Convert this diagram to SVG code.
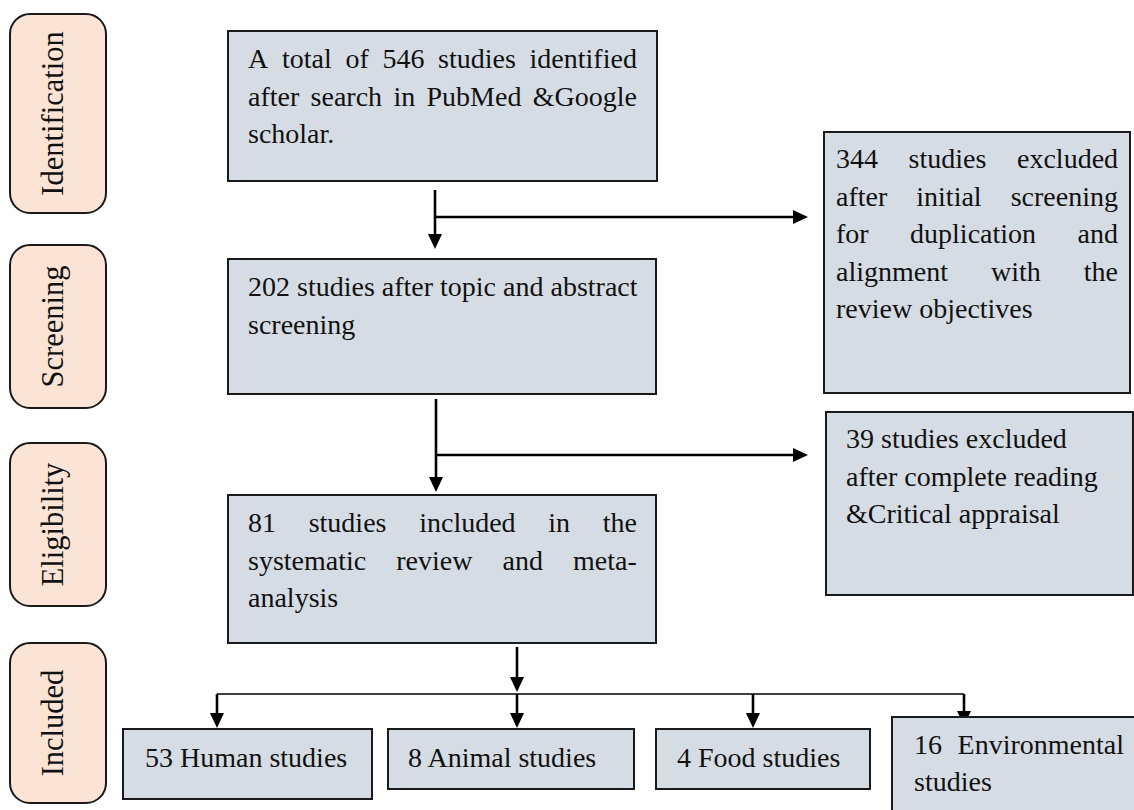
<svg xmlns="http://www.w3.org/2000/svg" width="1134" height="810" viewBox="0 0 1134 810">
<defs>
<style>
.box{fill:#D6DCE4;stroke:#1a1a1a;stroke-width:2}
.side{fill:#FBE4D5;stroke:#1a1a1a;stroke-width:2}
text{font-family:"Liberation Serif","Times New Roman",serif;font-size:28px;fill:#111}
.lbl{font-size:30.5px}
.ln{fill:none;stroke:#000;stroke-width:2.6}
.thin{fill:none;stroke:#000;stroke-width:1.6}
</style>
<marker id="ah" markerUnits="userSpaceOnUse" markerWidth="15" markerHeight="14" refX="3" refY="7" orient="auto">
<path d="M0,0 L15,7 L0,14 z" fill="#000"/>
</marker>
</defs>
<rect width="1134" height="810" fill="#fff"/>

<g id="stage-identification">
<rect class="side" x="10" y="14" width="96" height="199" rx="20"/>
<text class="lbl" transform="translate(63,113.5) rotate(-90)" text-anchor="middle">Identification</text>
</g>
<g id="stage-screening">
<rect class="side" x="10" y="245" width="96" height="163" rx="20"/>
<text class="lbl" transform="translate(63,326.5) rotate(-90)" text-anchor="middle">Screening</text>
</g>
<g id="stage-eligibility">
<rect class="side" x="10" y="443" width="96" height="163" rx="20"/>
<text class="lbl" transform="translate(63,524.5) rotate(-90)" text-anchor="middle">Eligibility</text>
</g>
<g id="stage-included">
<rect class="side" x="10" y="643" width="96" height="160" rx="20"/>
<text class="lbl" transform="translate(63,723) rotate(-90)" text-anchor="middle">Included</text>
</g>

<g id="connectors">
<path class="ln" d="M435,190 V237" marker-end="url(#ah)"/>
<path class="ln" d="M435,217 H796" marker-end="url(#ah)"/>
<path class="ln" d="M436,399 V480" marker-end="url(#ah)"/>
<path class="ln" d="M436,455 H796" marker-end="url(#ah)"/>
<path class="ln" d="M517,647 V680" marker-end="url(#ah)"/>
<path class="thin" d="M217,694 H964"/>
<path class="ln" d="M217,694 V716" marker-end="url(#ah)"/>
<path class="ln" d="M517,694 V716" marker-end="url(#ah)"/>
<path class="ln" d="M753,694 V716" marker-end="url(#ah)"/>
<path class="ln" d="M964,694 V714" marker-end="url(#ah)"/>
</g>

<g id="identified">
<rect class="box" x="228" y="31" width="429" height="150"/>
<text y="68"><tspan x="248">A</tspan><tspan x="281.9">total</tspan><tspan x="345.4">of</tspan><tspan x="382.4">546</tspan><tspan x="438.1">studies</tspan><tspan x="529.6">identified</tspan></text>
<text y="105.5"><tspan x="248">after</tspan><tspan x="310.6">search</tspan><tspan x="393.4">in</tspan><tspan x="426.5">PubMed</tspan><tspan x="532.7">&amp;Google</tspan></text>
<text x="248" y="143">scholar.</text>
</g>

<g id="excluded-344">
<rect class="box" x="824" y="132" width="306" height="261"/>
<text y="168"><tspan x="836">344</tspan><tspan x="908.6">studies</tspan><tspan x="1017">excluded</tspan></text>
<text y="205.5"><tspan x="836">after</tspan><tspan x="916.3">initial</tspan><tspan x="1010.7">screening</tspan></text>
<text y="243"><tspan x="836">for</tspan><tspan x="910.1">duplication</tspan><tspan x="1077.6">and</tspan></text>
<text y="280.5"><tspan x="836">alignment</tspan><tspan x="991">with</tspan><tspan x="1083.8">the</tspan></text>
<text x="836" y="318">review objectives</text>
</g>

<g id="screened">
<rect class="box" x="228" y="259" width="428" height="135"/>
<text x="248" y="296">202 studies after topic and abstract</text>
<text x="248" y="333.5">screening</text>
</g>

<g id="excluded-39">
<rect class="box" x="826" y="412" width="307" height="183"/>
<text x="846" y="448">39 studies excluded</text>
<text x="846" y="485.5">after complete reading</text>
<text x="846" y="523">&amp;Critical appraisal</text>
</g>

<g id="included">
<rect class="box" x="228" y="495" width="428" height="148"/>
<text y="532"><tspan x="248">81</tspan><tspan x="308.7">studies</tspan><tspan x="419.2">included</tspan><tspan x="548.3">in</tspan><tspan x="602.8">the</tspan></text>
<text y="569.5"><tspan x="248">systematic</tspan><tspan x="396.3">review</tspan><tspan x="502.6">and</tspan><tspan x="573.1">meta-</tspan></text>
<text x="248" y="607">analysis</text>
</g>

<g id="human">
<rect class="box" x="123" y="729" width="249" height="70"/>
<text x="145" y="767">53 Human studies</text>
</g>
<g id="animal">
<rect class="box" x="388" y="729" width="246" height="60"/>
<text x="408" y="767">8 Animal studies</text>
</g>
<g id="food">
<rect class="box" x="656" y="729" width="214" height="60"/>
<text x="677" y="767">4 Food studies</text>
</g>
<g id="environmental">
<rect class="box" x="892" y="717" width="260" height="120"/>
<text y="754"><tspan x="914">16</tspan><tspan x="1124" text-anchor="end">Environmental</tspan></text>
<text x="914" y="791">studies</text>
</g>
</svg>
